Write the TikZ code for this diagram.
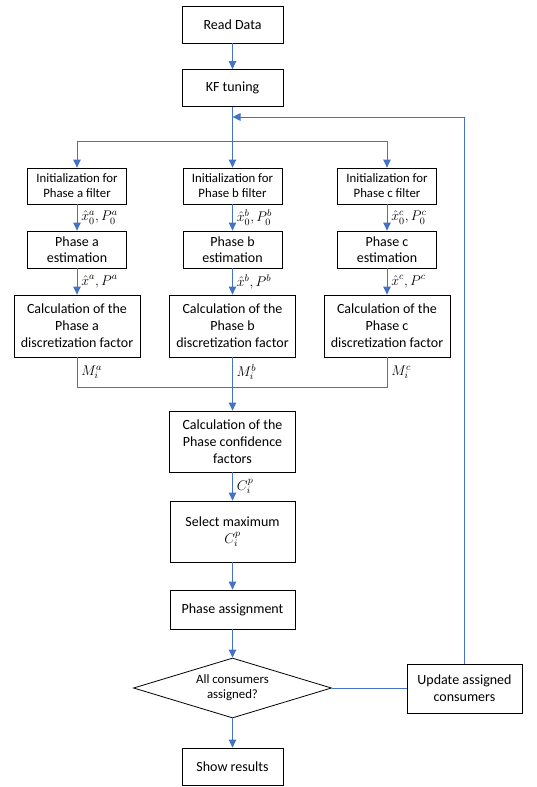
\documentclass[tikz,border=0pt]{standalone}
\usepackage{fix-cm}
\usepackage{fontspec}
\setmainfont{Carlito}
\usetikzlibrary{arrows.meta,shapes.geometric}
\definecolor{flowblue}{HTML}{4472C4}
\begin{document}
\begin{tikzpicture}[x=1pt,y=-1pt,
  box/.style={draw=black,line width=0.8pt,align=center,inner sep=1pt,font=\fontsize{14}{17}\selectfont},
  smallbox/.style={box,font=\fontsize{12.8}{15}\selectfont},
  conn/.style={draw=flowblue,line width=0.9pt},
  arr/.style={conn,-{Triangle[length=8pt,width=7.5pt]}},
  lbl/.style={anchor=west,inner sep=0pt,font=\fontsize{14}{16}\selectfont}]
\useasboundingbox (0,0) rectangle (537,787);
% top
\node[box,minimum width=101pt,minimum height=37pt] (rd) at (232.5,24.5) {Read Data};
\node[box,minimum width=101pt,minimum height=37pt] (kf) at (232.5,88) {KF tuning};
% phase columns
\foreach \n/\x/\p in {a/77/a,b/232.5/b,c/387/c}{
  \node[smallbox,minimum width=99pt,minimum height=36pt] (i\n) at (\x,186) {Initialization for\\Phase \p{} filter};
  \node[box,font=\fontsize{14}{16}\selectfont,minimum width=99pt,minimum height=37pt] (e\n) at (\x,249.5) {Phase \p\\estimation};
  \node[box,minimum width=126pt,minimum height=62pt] (c\n) at (\x,326) {Calculation of the\\Phase \p\\discretization factor};
}
\node[box,minimum width=126pt,minimum height=61pt] (conf) at (232.5,441.5) {Calculation of the\\Phase confidence\\factors};
\node[box,minimum width=125pt,minimum height=61pt] (sel) at (232.5,531.5) {Select maximum\\$C_i^p$};
\node[box,minimum width=125pt,minimum height=39pt] (pa) at (232.5,609.5) {Phase assignment};
\node[draw=black,line width=0.8pt,diamond,aspect=3.3,inner sep=0pt,minimum width=198pt,minimum height=60pt,align=center,font=\fontsize{12.8}{15}\selectfont] (dec) at (232.5,688) {All consumers\\assigned?};
\node[box,minimum width=115pt,minimum height=49pt] (upd) at (464.5,688.5) {Update assigned\\consumers};
\node[box,minimum width=101pt,minimum height=37pt] (sr) at (232.5,766.5) {Show results};
% connectors
\coordinate (split) at (232.5,141);
\coordinate (fb) at (232.5,117);
\coordinate (mj) at (232.5,387);
\draw[arr] (rd) -- (kf);
\draw[conn] (kf.south) -- (split);
\draw[conn] (ia.north |- split) -- (ic.north |- split);
\draw[arr] (split) -- (ib.north);
\draw[arr] (ia.north |- split) -- (ia.north);
\draw[arr] (ic.north |- split) -- (ic.north);
\draw[arr] (upd.north) |- (fb);
\foreach \n in {a,b,c}{
  \draw[arr] (i\n) -- node[lbl,right=4pt]{$\hat{x}_0^{\n},P_0^{\n}$} (e\n);
  \draw[arr] (e\n) -- node[lbl,right=4pt]{$\hat{x}^{\n},P^{\n}$} (c\n);
}
\draw[conn] (ca.south) -- node[lbl,right=4pt]{$M_i^a$} (ca.south |- mj) -- (cc.south |- mj) -- node[lbl,right=4pt,pos=0.5]{$M_i^c$} (cc.south);
\draw[arr] (cb.south) -- (conf.north);
\node[lbl,right=4pt] at (cb.south |- 0,372) {$M_i^b$};
\draw[arr] (conf) -- node[lbl,right=4pt]{$C_i^p$} (sel);
\draw[arr] (sel) -- (pa);
\draw[arr] (pa) -- (dec);
\draw[arr] (dec) -- (sr);
\draw[conn] (dec.east) -- (upd.west |- dec.east);
\end{tikzpicture}
\end{document}
